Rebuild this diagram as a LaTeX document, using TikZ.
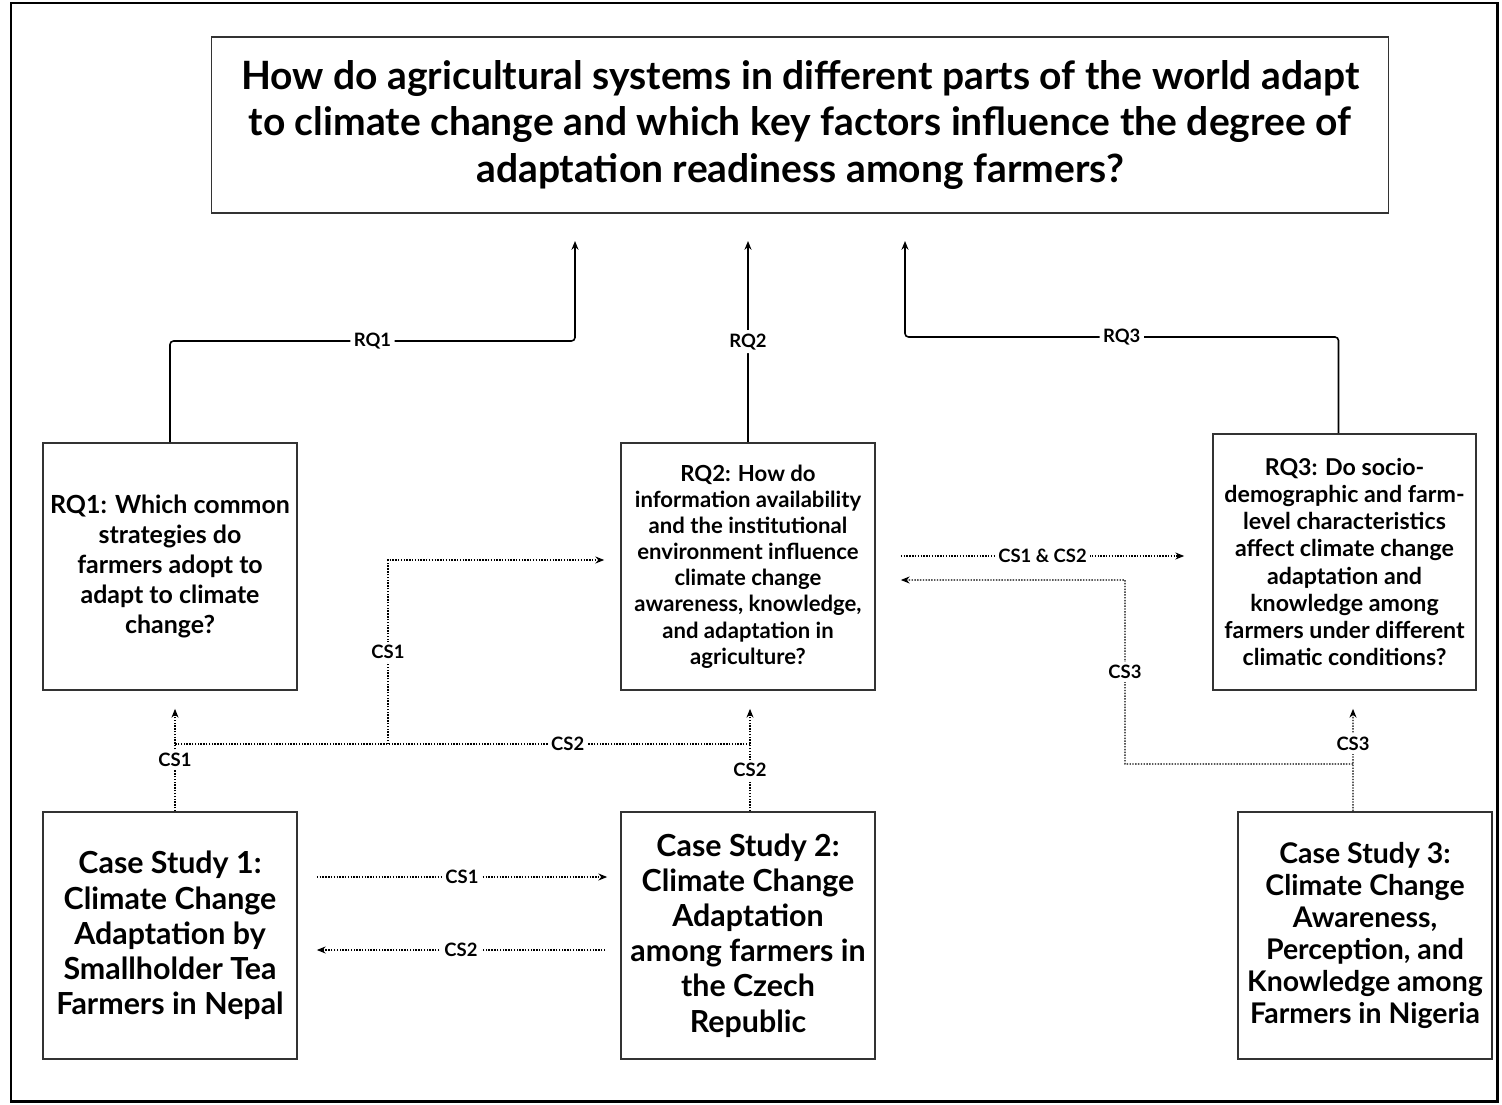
\documentclass[tikz,border=0pt]{standalone}
\usepackage{fontspec}
\setmainfont{Lato}
\usetikzlibrary{arrows.meta,positioning,calc}

\begin{document}
\begin{tikzpicture}[x=0.02cm, y=-0.02cm, font=\bfseries]
\tikzstyle{mainq} = [rectangle, draw=black!80, line width=0.9pt, align=center,
minimum width=23.54cm, minimum height=3.52cm, font=\fontsize{22.2}{26.2}\selectfont\bfseries]
\tikzstyle{block} = [rectangle, draw=black!80, line width=1pt, align=center,
minimum width=5.08cm, minimum height=4.94cm, inner sep=0pt]
\tikzstyle{rqbig} = [font=\fontsize{14.2}{17.2}\selectfont\bfseries]
\tikzstyle{rqsmall} = [font=\fontsize{12.6}{14.9}\selectfont\bfseries]
\tikzstyle{casebox} = [font=\fontsize{17.3}{20}\selectfont\bfseries]
\tikzstyle{line} = [draw, line width=0.9pt, rounded corners=2pt, -{Stealth[length=5pt,width=4pt]}]
\tikzstyle{dotline} = [draw, line width=0.8pt, dash pattern=on 0.8pt off 0.8pt, -{Stealth[length=5pt,width=4pt]}]
\tikzstyle{lbl} = [fill=white, inner sep=2pt, anchor=center, font=\fontsize{10.5}{11}\selectfont\bfseries]

\useasboundingbox (0,0) rectangle (1502,1105);
\draw[line width=1.7pt] (11,3) rectangle (1497,1101);

% main question
\node [mainq] (main) at (800,125) {How do agricultural systems in different parts of the world adapt\\
to climate change and which key factors influence the degree of\\
adaptation readiness among farmers?};
% research questions
\node [block, rqbig] (rq1) at (170,566.5) {RQ1: Which common\\ strategies do\\ farmers adopt to\\ adapt to climate\\ change?};
\node [block, rqsmall] (rq2) at (748,566.5) {RQ2: How do\\ information availability\\ and the institutional\\ environment influence\\ climate change\\ awareness, knowledge,\\ and adaptation in\\ agriculture?};
\node [block, rqsmall, font=\fontsize{13.2}{15.4}\selectfont\bfseries, minimum width=5.26cm, minimum height=5.12cm] (rq3) at (1344.5,562) {RQ3: Do socio-\\ demographic and farm-\\ level characteristics\\ affect climate change\\ adaptation and\\ knowledge among\\ farmers under different\\ climatic conditions?};
% case studies
\node [block, casebox] (cs1) at (170,935.5) {Case Study 1:\\ Climate Change\\ Adaptation by\\ Smallholder Tea\\ Farmers in Nepal};
\node [block, casebox] (cs2) at (748,935.5) {Case Study 2:\\ Climate Change\\ Adaptation\\ among farmers in\\ the Czech\\ Republic};
\node [block, casebox, font=\fontsize{16.2}{18.2}\selectfont\bfseries] (cs3) at (1365,935.5) {Case Study 3:\\ Climate Change\\ Awareness,\\ Perception, and\\ Knowledge among\\ Farmers in Nigeria};

% arrow ends below the main question
\coordinate (q1) at (575,241);
\coordinate (q2) at (748,241);
\coordinate (q3) at (905,241);

% RQ connectors
\path [line] (rq1.north) |- node [lbl, pos=0.75] {RQ1} (575,341) -- (q1);
\path [line] (rq2.north) -- node [lbl, pos=0.5] {RQ2} (q2);
\path [line] ($(rq3.north)+(-6,0)$) |- node [lbl, pos=0.75] {RQ3} (905,337) -- (q3);

% CS connectors
\path [dotline] ($(cs1.north)+(5,0)$) -- node [lbl, pos=0.5] {CS1} ($(rq1.south)+(5,18)$);
\path [dotline] ($(cs2.north)+(2,0)$) -- node [lbl, pos=0.4] {CS2} ($(rq2.south)+(2,18)$);
\path [draw, line width=0.8pt, dash pattern=on 0.8pt off 0.8pt] (750,744) -- node [lbl, pos=0.317] {CS2} (175,744);
\path [dotline] (388,744) |- node [lbl, pos=0.25] {CS1} ($(rq2.west)+(-16,-6.5)$);
\path [dotline] ($(cs1.east)+(19,-58.5)$) -- node [lbl] {CS1} ($(cs2.west)+(-13,-58.5)$);
\path [dotline] ($(cs2.west)+(-15,14.5)$) -- node [lbl] {CS2} ($(cs1.east)+(19,14.5)$);
\path [dotline] ($(rq2.east)+(25,-10.5)$) -- node [lbl] {CS1 \& CS2} ($(rq3.west)+(-28,-6)$);
\path [dotline] ($(cs3.north)+(-12,0)$) -- node [lbl, pos=0.66] {CS3} ($(rq3.south)+(8.5,18)$);
\path [dotline] (1353,764) -| node [lbl, pos=0.75] {CS3} (1125,580) -- ($(rq2.east)+(25,13.5)$);

\end{tikzpicture}
\end{document}
